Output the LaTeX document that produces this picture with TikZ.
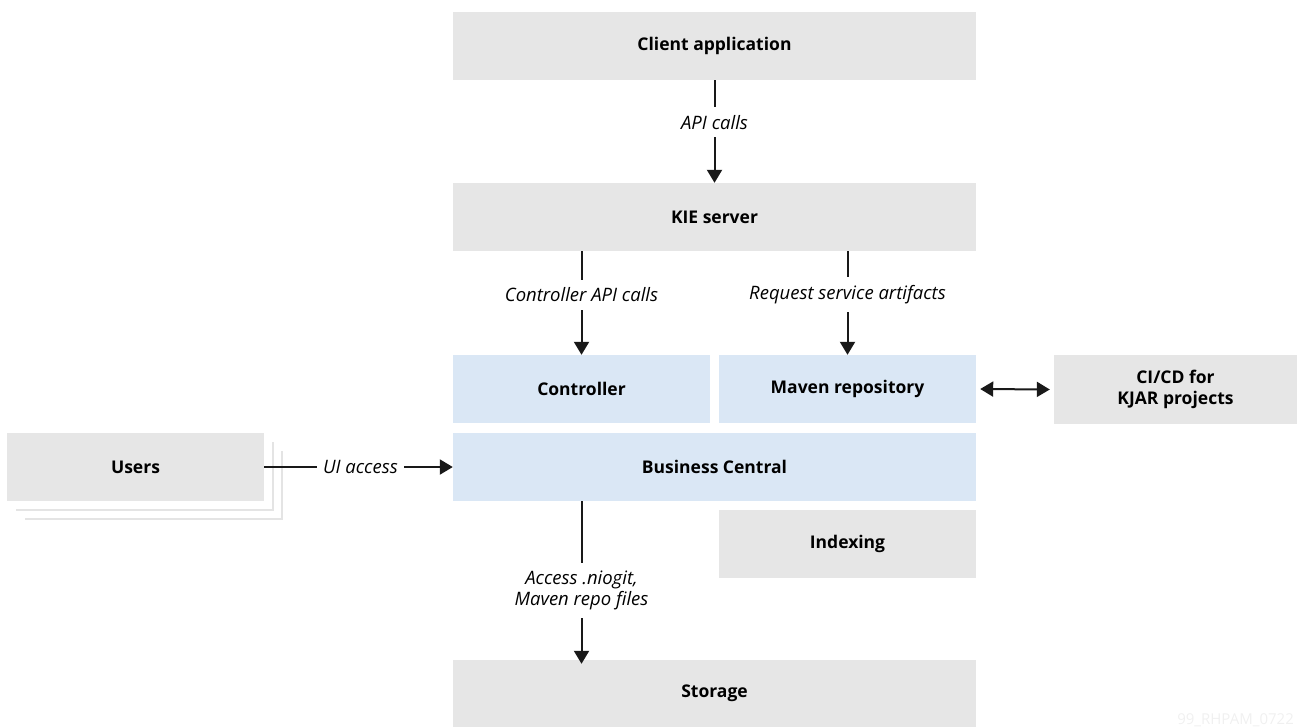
\documentclass[tikz,border=0pt]{standalone}
\usepackage{fontspec}
\setmainfont{Open Sans}
\usetikzlibrary{arrows.meta}
\definecolor{boxgray}{HTML}{E6E6E6}
\definecolor{boxblue}{HTML}{DAE7F5}
\definecolor{shadowgray}{HTML}{E4E4E4}
\definecolor{wmgray}{HTML}{F0F0F0}
\tikzset{
  px/.style={x=1pt,y=-1pt},
  graybox/.style={fill=boxgray,draw=none,font=\fontsize{17.5}{21}\selectfont\bfseries,align=center},
  bluebox/.style={fill=boxblue,draw=none,font=\fontsize{17.5}{21}\selectfont\bfseries,align=center},
  shadowline/.style={draw=shadowgray,line width=2.5pt},
  conn/.style={line width=2pt,draw=black!90,-{Triangle[width=15pt,length=13pt]}},
  dconn/.style={line width=2pt,draw=black!90,{Triangle[width=15pt,length=13pt]}-{Triangle[width=15pt,length=13pt]}},
  lbl/.style={fill=white,font=\fontsize{18.5}{21}\selectfont\itshape,inner xsep=6pt,inner ysep=8pt,align=center},
}
\begin{document}
\begin{tikzpicture}[px]
\useasboundingbox (0,0) rectangle (1297,727);
% boxes
\node[graybox,minimum width=523pt,minimum height=68pt] (client) at (714.5,46) {Client application};
\node[graybox,minimum width=523pt,minimum height=68pt] (kie) at (714.5,217) {KIE server};
\node[bluebox,minimum width=257pt,minimum height=68pt] (ctrl) at (581.5,389) {Controller};
\node[bluebox,minimum width=257pt,minimum height=68pt] (maven) at (847.5,389) {Maven repository};
\node[graybox,minimum width=243pt,minimum height=69pt] (cicd) at (1175.5,389.5) {CI/CD for\\KJAR projects};
\node[bluebox,minimum width=523pt,minimum height=68pt] (bc) at (714.5,467) {Business Central};
\node[graybox,minimum width=257pt,minimum height=68pt] (idx) at (847.5,544) {Indexing};
\node[graybox,minimum width=523pt,minimum height=67pt] (stor) at (714.5,693.5) {Storage};
% users stack (back layers: only right and bottom edges show)
\draw[shadowline] (25,519) -- (282,519) -- (282,451);
\draw[shadowline] (16,510) -- (273,510) -- (273,442);
\node[graybox,minimum width=257pt,minimum height=68pt] (users) at (135.5,467) {Users};
% connectors
\draw[conn] (client.south) -- node[lbl,pos=0.41] {API calls} (kie.north);
\draw[conn] ([xshift=-133pt]kie.south) -- node[lbl,pos=0.42] {Controller API calls} (ctrl.north);
\draw[conn] ([xshift=133pt]kie.south) -- node[lbl,pos=0.42] {Request service artifacts} (maven.north);
\draw[conn] (users.east) -- node[lbl,pos=0.51] {UI access} (bc.west);
\draw[dconn] ([xshift=4pt]maven.east) -- ([xshift=-4pt]cicd.west);
\draw[conn] (bc.south -| ctrl.south) -- node[lbl,pos=0.55] {Access .niogit,\\Maven repo files} ([yshift=-4pt]stor.north -| ctrl.south);
% watermark
\node[anchor=base east,text=wmgray,font=\fontsize{15}{18}\selectfont,inner sep=0pt] (wm) at (1294,724) {99\_RHPAM\_0722};
\end{tikzpicture}
\end{document}
